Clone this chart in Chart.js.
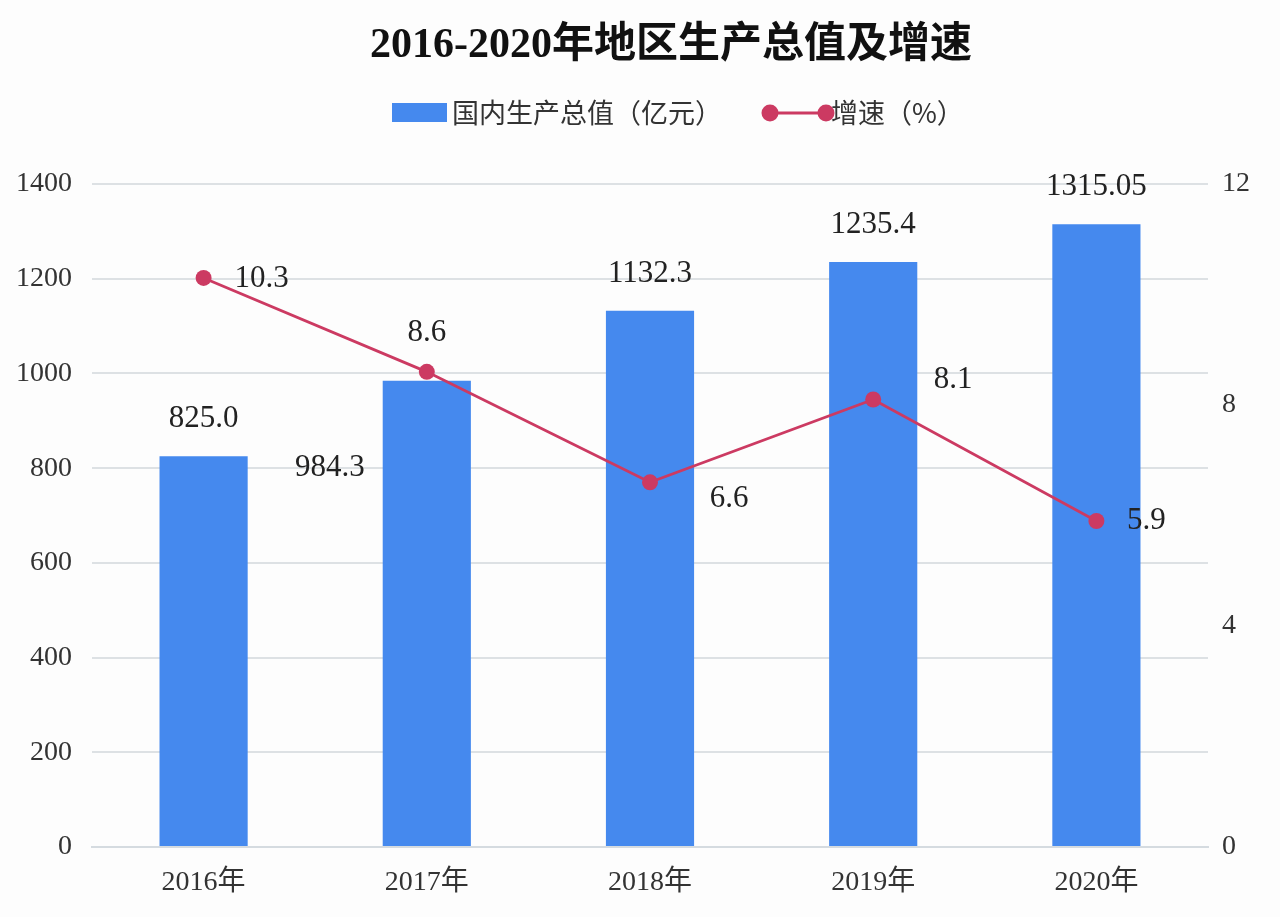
<!DOCTYPE html>
<html>
<head>
<meta charset="utf-8">
<script src="https://cdn.jsdelivr.net/npm/chart.js@4/dist/chart.umd.min.js"></script>
<style>
html,body{margin:0;padding:0;background:#fdfdfd;}
#wrap{width:1280px;height:917px;position:relative;}
</style>
</head>
<body>
<div id="wrap"><canvas id="c"></canvas></div>
<script>
const categories = ['2016年','2017年','2018年','2019年','2020年'];
const gdpValues = [825.0, 984.3, 1132.3, 1235.4, 1315.05];
const gdpLabels = ['825.0','984.3','1132.3','1235.4','1315.05'];
const growthValues = [10.3, 8.6, 6.6, 8.1, 5.9];
const growthLabels = ['10.3','8.6','6.6','8.1','5.9'];
const titleText = '2016-2020年地区生产总值及增速';
const gdpName = '国内生产总值（亿元）';
const growthName = '增速（%）';

// label offsets (pixels) relative to mark anchor
const gdpLabelOffsets = [[0,-37],[-97,87],[0,-37],[0,-37],[0,-37]];
const growthLabelOffsets = [[58,1],[0,-39],[79,17],[80,-20],[50,0]];

const SERIF = '"Liberation Serif","Times New Roman","Noto Sans CJK SC",serif';
const BAR_COLOR = '#4589EE';
const LINE_COLOR = '#CC3A62';

const overlay = {
  id: 'overlay',
  afterDatasetsDraw(chart) {
    const ctx = chart.ctx;
    ctx.save();
    ctx.fillStyle = '#222';
    ctx.textAlign = 'center';
    ctx.textBaseline = 'middle';
    ctx.font = '31px ' + SERIF;
    const barMeta = chart.getDatasetMeta(0);
    barMeta.data.forEach((el, i) => {
      const o = gdpLabelOffsets[i];
      ctx.fillText(gdpLabels[i], el.x + o[0], el.y + o[1]);
    });
    const lineMeta = chart.getDatasetMeta(1);
    lineMeta.data.forEach((el, i) => {
      const o = growthLabelOffsets[i];
      ctx.fillText(growthLabels[i], el.x + o[0], el.y + o[1]);
    });
    ctx.restore();
  },
  afterDraw(chart) {
    const ctx = chart.ctx;
    ctx.save();
    ctx.fillStyle = '#111';
    ctx.textAlign = 'center';
    ctx.textBaseline = 'middle';
    ctx.font = 'bold 42px "Liberation Serif","Noto Sans CJK SC",serif';
    ctx.fillText(titleText, 671, 46);
    ctx.font = '27px "Noto Sans CJK SC","Noto Sans",sans-serif';
    ctx.textAlign = 'left';
    ctx.fillStyle = BAR_COLOR;
    ctx.fillRect(392, 103, 55, 19);
    ctx.fillStyle = '#333';
    ctx.fillText(gdpName, 452, 113);
    ctx.strokeStyle = LINE_COLOR;
    ctx.lineWidth = 3;
    ctx.beginPath();
    ctx.moveTo(770, 113);
    ctx.lineTo(826, 113);
    ctx.stroke();
    ctx.fillStyle = LINE_COLOR;
    [770, 826].forEach(x => {
      ctx.beginPath();
      ctx.arc(x, 113, 8.5, 0, Math.PI * 2);
      ctx.fill();
    });
    ctx.fillStyle = '#333';
    ctx.fillText(growthName, 831, 113);
    ctx.restore();
  }
};

new Chart(document.getElementById('c'), {
  data: {
    labels: categories,
    datasets: [
      {
        type: 'bar',
        label: gdpName,
        data: gdpValues,
        backgroundColor: BAR_COLOR,
        borderWidth: 0,
        barPercentage: 0.395,
        categoryPercentage: 1,
        yAxisID: 'y',
        order: 2
      },
      {
        type: 'line',
        label: growthName,
        data: growthValues,
        borderColor: LINE_COLOR,
        backgroundColor: LINE_COLOR,
        borderWidth: 2.8,
        pointRadius: 8,
        pointHoverRadius: 8,
        pointBackgroundColor: LINE_COLOR,
        pointBorderWidth: 0,
        tension: 0,
        yAxisID: 'y1',
        order: 1
      }
    ]
  },
  options: {
    responsive: true,
    maintainAspectRatio: false,
    animation: false,
    layout: { padding: { top: 184, left: 0, right: 0, bottom: 0 } },
    plugins: {
      legend: { display: false },
      title: { display: false },
      tooltip: { enabled: false }
    },
    scales: {
      x: {
        grid: { display: false, drawTicks: false },
        border: { display: true, color: '#d5dbe0', width: 2 },
        ticks: { color: '#333', font: { family: SERIF, size: 28 }, padding: 19 },
        afterFit(s) { s.height = 70; }
      },
      y: {
        position: 'left',
        min: 0, max: 1400,
        ticks: { stepSize: 200, color: '#333', font: { family: SERIF, size: 28 }, padding: 20,
                 callback: v => String(v) },
        grid: { color: '#dde1e4', lineWidth: 2, drawTicks: false },
        border: { display: false },
        afterFit(s) { s.width = 92; }
      },
      y1: {
        position: 'right',
        min: 0, max: 12,
        ticks: { stepSize: 4, color: '#333', font: { family: SERIF, size: 28 }, padding: 14,
                 callback: v => String(v) },
        grid: { display: false, drawTicks: false },
        border: { display: false },
        afterFit(s) { s.width = 72; }
      }
    }
  },
  plugins: [overlay]
});
</script>
</body>
</html>
